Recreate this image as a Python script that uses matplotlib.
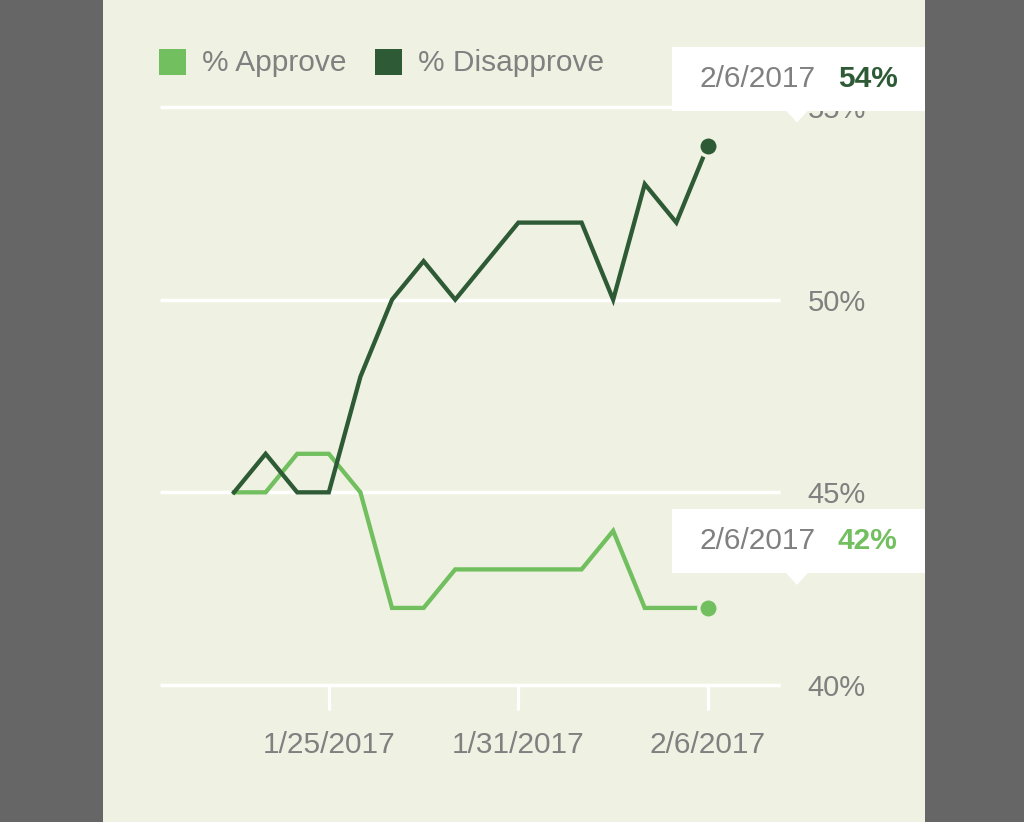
import matplotlib
matplotlib.use("Agg")
import matplotlib.pyplot as plt
import matplotlib.dates as mdates
from matplotlib.patches import Rectangle, Polygon
import datetime as dt

plt.rcParams['font.family'] = ['Liberation Sans', 'DejaVu Sans']

dates = ["2017-01-22", "2017-01-23", "2017-01-24", "2017-01-25", "2017-01-26",
         "2017-01-27", "2017-01-28", "2017-01-29", "2017-01-30", "2017-01-31",
         "2017-02-01", "2017-02-02", "2017-02-03", "2017-02-04", "2017-02-05",
         "2017-02-06"]
approve = [45, 45, 46, 46, 45, 42, 42, 43, 43, 43, 43, 43, 44, 42, 42, 42]
disapprove = [45, 46, 45, 45, 48, 50, 51, 50, 51, 52, 52, 52, 50, 53, 52, 54]
series_names = ["% Approve", "% Disapprove"]
x_tick_dates = ["2017-01-25", "2017-01-31", "2017-02-06"]
x_tick_labels = ["1/25/2017", "1/31/2017", "2/6/2017"]
y_ticks = [40, 45, 50, 55]
y_tick_labels = ["40%", "45%", "50%", "55%"]

C_APP = "#72bf5f"
C_DIS = "#2e5b36"
PANEL = "#eff2e2"
OUTER = "#666666"
GRAY = "#808080"

W, H = 1024, 822
fig = plt.figure(figsize=(W / 100, H / 100), dpi=100)
fig.patch.set_facecolor(OUTER)
fig.patches.append(Rectangle((103 / W, 0), (925 - 103) / W, 1, transform=fig.transFigure,
                             facecolor=PANEL, edgecolor="none", zorder=0))

ax = fig.add_axes([160 / W, 137 / H, 620 / W, 578 / H])
ax.set_facecolor("none")
ax.set_zorder(1)

xd = [mdates.date2num(dt.datetime.strptime(d, "%Y-%m-%d")) for d in dates]
x0 = xd[0]
ax.set_xlim(x0 - 2.343, x0 + 17.28)
ax.set_ylim(40, 55)

for s in ax.spines.values():
    s.set_visible(False)

ax.set_yticks(y_ticks)
ax.set_yticklabels(y_tick_labels)
ax.yaxis.tick_right()
ax.tick_params(axis="y", length=0, pad=20, labelsize=21, labelcolor=GRAY)
ax.grid(axis="y", color="white", linewidth=2.5, zorder=0, solid_capstyle="butt")
for gl in ax.get_ygridlines():
    gl.set_clip_on(False)
ax.set_axisbelow(True)

xt = [mdates.date2num(dt.datetime.strptime(d, "%Y-%m-%d")) for d in x_tick_dates]
ax.set_xticks(xt)
ax.set_xticklabels(x_tick_labels)
ax.tick_params(axis="x", direction="out", length=18, width=2.3, color="white",
               pad=15, labelsize=21.5, labelcolor=GRAY)

ax.plot(xd, approve, color=C_APP, linewidth=3.1, solid_joinstyle="miter", zorder=3)
ax.plot(xd, disapprove, color=C_DIS, linewidth=3.1, solid_joinstyle="miter", zorder=3)
ax.plot([xd[-1]], [approve[-1]], "o", color=C_APP, markersize=14,
        markeredgecolor=PANEL, markeredgewidth=2.5, zorder=4)
ax.plot([xd[-1]], [disapprove[-1]], "o", color=C_DIS, markersize=14,
        markeredgecolor=PANEL, markeredgewidth=2.5, zorder=4)

# Legend (manual, figure pixels)
leg_items = [(series_names[0], C_APP, 159), (series_names[1], C_DIS, 375)]
for name, col, lx in leg_items:
    fig.patches.append(Rectangle((lx / W, 1 - 75 / H), 27 / W, 26 / H, transform=fig.transFigure,
                                 facecolor=col, edgecolor="none", zorder=2))
    fig.text((lx + 43) / W, 1 - 63 / H, name, fontsize=21.5, color=GRAY, va="center", ha="left")

# Tooltips anchored to last points
fig.canvas.draw()
for val, col in [(disapprove[-1], C_DIS), (approve[-1], C_APP)]:
    px, py = ax.transData.transform((xd[-1], val))
    bx0, bx1 = px - 36, 925
    byc = py + 67
    bh = 64
    fig.patches.append(Rectangle((bx0 / W, (byc - bh / 2) / H), (bx1 - bx0) / W, bh / H,
                                 transform=fig.transFigure, facecolor="white",
                                 edgecolor="none", zorder=5))
    tx = px + 89
    fig.patches.append(Polygon([((tx - 11) / W, (byc - bh / 2) / H),
                                ((tx + 11) / W, (byc - bh / 2) / H),
                                (tx / W, (byc - bh / 2 - 12) / H)],
                               closed=True, transform=fig.transFigure,
                               facecolor="white", edgecolor="none", zorder=5))
    fig.text((px - 8) / W, byc / H, "2/6/2017", fontsize=21.5, color=GRAY,
             va="center", ha="left", zorder=6)
    fig.text((px + 130) / W, byc / H, f"{val}%", fontsize=21.5, color=col,
             fontweight="bold", va="center", ha="left", zorder=6)

fig.savefig("out.png", dpi=100, facecolor=fig.get_facecolor())
